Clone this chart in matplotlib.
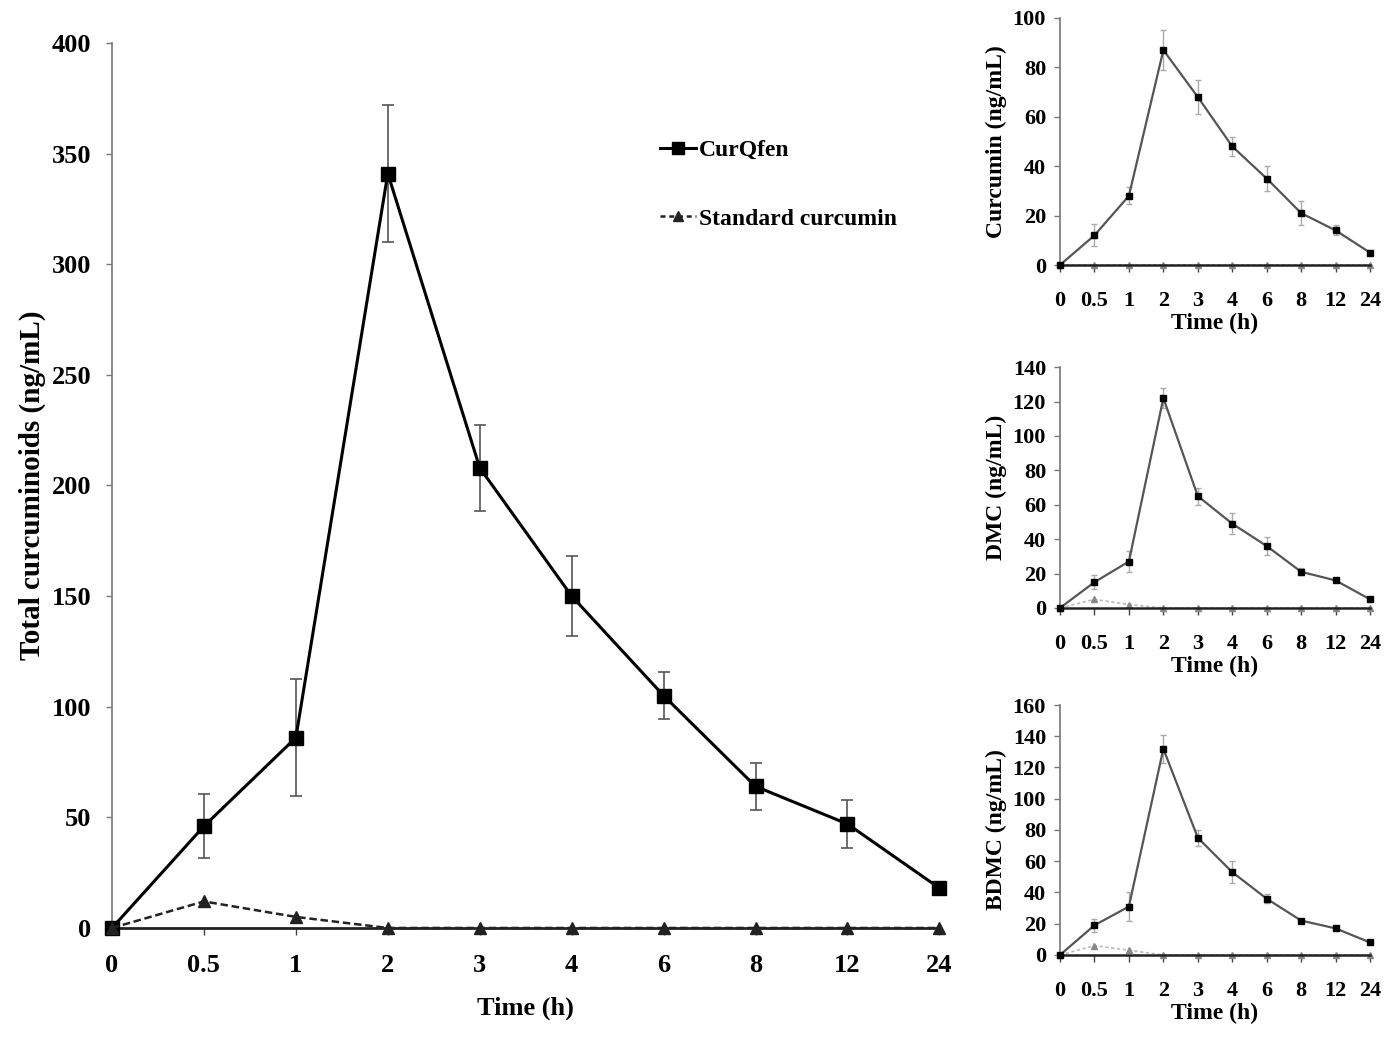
import matplotlib
matplotlib.use("Agg")
import matplotlib.pyplot as plt
from matplotlib.lines import Line2D
import numpy as np

plt.rcParams['font.family'] = ['Liberation Serif', 'DejaVu Serif']
plt.rcParams['font.weight'] = 'bold'

time_labels = ["0", "0.5", "1", "2", "3", "4", "6", "8", "12", "24"]

total_curqfen = [0, 46, 86, 341, 208, 150, 105, 64, 47, 18]
total_curqfen_err = [0, 14.5, 26.5, 31, 19.5, 18, 10.5, 10.5, 11, 1]
total_standard = [0, 12, 5, 0, 0, 0, 0, 0, 0, 0]

cur_curqfen = [0, 12, 28, 87, 68, 48, 35, 21, 14, 5]
cur_curqfen_err = [0, 4.5, 3.5, 8, 7, 4, 5, 5, 2, 1]
cur_standard = [0, 0, 0, 0, 0, 0, 0, 0, 0, 0]

dmc_curqfen = [0, 15, 27, 122, 65, 49, 36, 21, 16, 5]
dmc_curqfen_err = [0, 4, 6, 6, 5, 6, 5, 2, 1, 1]
dmc_standard = [0, 5, 2, 0, 0, 0, 0, 0, 0, 0]

bdmc_curqfen = [0, 19, 31, 132, 75, 53, 36, 22, 17, 8]
bdmc_curqfen_err = [0, 4, 9, 9, 5, 7, 3, 1, 1, 1]
bdmc_standard = [0, 6, 3, 0, 0, 0, 0, 0, 0, 0]

fig = plt.figure(figsize=(13.86, 10.38), dpi=100)

x = np.arange(len(time_labels))

def style(ax, ymax, ystep, fs, lw, ypad, xpad):
    ax.set_xlim(0, len(time_labels) - 1)
    ax.set_ylim(0, ymax)
    ax.set_yticks(np.arange(0, ymax + 1, ystep))
    ax.set_xticks(x)
    ax.set_xticklabels(time_labels)
    for s in ['top', 'right']:
        ax.spines[s].set_visible(False)
    ax.spines['left'].set_color('#777777')
    ax.spines['left'].set_linewidth(1.2)
    ax.spines['bottom'].set_color('#222222')
    ax.spines['bottom'].set_linewidth(lw)
    ax.tick_params(axis='y', direction='out', length=4, width=1, color='#777777', labelsize=fs, pad=ypad)
    ax.tick_params(axis='x', direction='out', length=5, width=1, color='#444444', labelsize=fs, pad=xpad)
    for t in ax.get_xticklabels() + ax.get_yticklabels():
        t.set_fontweight('bold')
    ax.patch.set_alpha(0)

# Main chart
ax = fig.add_axes([0.0808, 0.106, 0.597, 0.8526])
ax.errorbar(x, total_curqfen, yerr=total_curqfen_err, color='black', lw=2.2,
            marker='s', ms=10, ecolor='#555555', elinewidth=1.2, capsize=4,
            capthick=1.2, zorder=3, clip_on=False)
ax.plot(x, total_standard, color='#222222', lw=1.8, ls=(0, (3, 1.5)),
        marker='^', ms=8, zorder=4, clip_on=False)
style(ax, 400, 50, 19, 2.0, 11, 14)
ax.set_ylabel('Total curcuminoids (ng/mL)', fontsize=21, fontweight='bold', labelpad=4)
ax.set_xlabel('Time (h)', fontsize=19, fontweight='bold', labelpad=14)
handles = [
    Line2D([], [], color='black', lw=2.2, marker='s', ms=8),
    Line2D([], [], color='#222222', lw=1.8, ls=(0, (2, 1.5)), marker='^', ms=7),
]
ax.legend(handles, ['CurQfen', 'Standard curcumin'], loc='upper left',
          bbox_to_anchor=(0.637, 0.915), frameon=False,
          handlelength=1.5, handletextpad=0.15, labelspacing=2.0,
          prop={'family': 'Liberation Serif', 'weight': 'bold', 'size': 17})

small = [
    ([0.7648, 0.7447, 0.2237, 0.238], cur_curqfen, cur_curqfen_err, cur_standard, 100, 20, 'Curcumin (ng/mL)'),
    ([0.7648, 0.4143, 0.2237, 0.232], dmc_curqfen, dmc_curqfen_err, dmc_standard, 140, 20, 'DMC (ng/mL)'),
    ([0.7648, 0.0800, 0.2237, 0.2408], bdmc_curqfen, bdmc_curqfen_err, bdmc_standard, 160, 20, 'BDMC (ng/mL)'),
]
for rect, yv, ye, ys, ymax, ystep, lab in small:
    a = fig.add_axes(rect)
    a.errorbar(x, yv, yerr=ye, color='#555555', lw=1.6, marker='s', ms=5,
               mfc='black', mec='black', ecolor='#aaaaaa', elinewidth=1.0,
               capsize=2, capthick=1.0, zorder=3, clip_on=False)
    a.plot(x, ys, color='#bbbbbb', lw=1.2, ls=(0, (2, 1.5)), marker='^', ms=4,
           mfc='#888888', mec='#888888', zorder=2, clip_on=False)
    style(a, ymax, ystep, 16, 1.8, 6, 14)
    a.set_ylabel(lab, fontsize=17, fontweight='bold', labelpad=4)
    a.set_xlabel('Time (h)', fontsize=17, fontweight='bold', labelpad=1)

fig.savefig('out.png', dpi=100)
